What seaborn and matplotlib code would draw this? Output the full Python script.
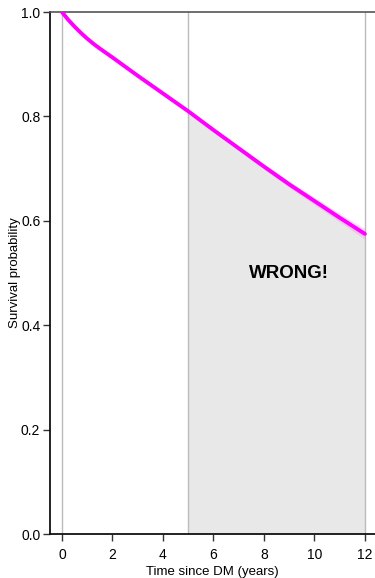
import matplotlib
matplotlib.use("Agg")
import matplotlib.pyplot as plt
import seaborn as sns
import numpy as np
import pandas as pd

# Survival curve since DM diagnosis
years = [0, 0.25, 0.5, 0.75, 1, 1.25, 1.5, 2, 3, 4, 5, 6, 7, 8, 9, 10, 11, 12]
survival = [1.0, 0.985, 0.972, 0.960, 0.949, 0.939, 0.930, 0.913, 0.878, 0.844, 0.810, 0.774, 0.739, 0.704, 0.670, 0.638, 0.606, 0.575]
ci_lower = [1.0, 0.984, 0.971, 0.959, 0.948, 0.938, 0.929, 0.912, 0.877, 0.843, 0.808, 0.771, 0.735, 0.699, 0.664, 0.631, 0.598, 0.565]
ci_upper = [1.0, 0.986, 0.973, 0.961, 0.950, 0.940, 0.931, 0.914, 0.879, 0.845, 0.812, 0.777, 0.743, 0.709, 0.676, 0.645, 0.614, 0.585]

# Extrapolation window and its annotation
extrap_start, extrap_end = 5, 12
note_text = "WRONG!"
note_x, note_y = 9.0, 0.50

x_ticks = [0, 2, 4, 6, 8, 10, 12]
y_ticks = [0.0, 0.2, 0.4, 0.6, 0.8, 1.0]

sns.set_style("ticks")
plt.rcParams["font.family"] = ["Liberation Sans", "DejaVu Sans"]
plt.rcParams["text.color"] = "black"
plt.rcParams["axes.labelcolor"] = "black"
plt.rcParams["xtick.color"] = "black"
plt.rcParams["ytick.color"] = "black"

df = pd.DataFrame({"years": years, "survival": survival})

fig = plt.figure(figsize=(3.75, 5.78), dpi=100)
ax = fig.add_axes([0.1333, 0.0761, 0.8667, 0.9031])

# Shaded area under the curve over the extrapolated period
yr = np.array(years, dtype=float)
sv = np.array(survival, dtype=float)
mask = yr >= extrap_start
ax.fill_between(yr[mask], 0, sv[mask], color="#e8e8e8", lw=0, zorder=1)

# Reference verticals
for xv in [0, extrap_start, extrap_end]:
    ax.axvline(xv, color="#bbbbbb", lw=1.0, zorder=2)

# Confidence band and survival curve
ax.fill_between(yr, ci_lower, ci_upper, color="#ff00ff", alpha=0.15, lw=0, zorder=3)
sns.lineplot(data=df, x="years", y="survival", ax=ax, color="#ff00ff", lw=2.8, zorder=4)

ax.text(note_x, note_y, note_text, fontsize=13.5, fontweight="bold", color="black",
        ha="center", va="center", zorder=5)

ax.set_xlim(-0.475, 12.4)
ax.set_ylim(0, 1.0)
ax.set_xticks(x_ticks)
ax.set_yticks(y_ticks)
ax.set_xticklabels([str(t) for t in x_ticks])
ax.set_yticklabels([f"{t:.1f}" for t in y_ticks])
ax.tick_params(axis="both", labelsize=10, length=5, width=1, color="#333333", labelcolor="black")
ax.tick_params(axis="x", pad=5)
ax.tick_params(axis="y", pad=2)

ax.set_xlabel("Time since DM (years)", fontsize=9.5, labelpad=3)
ax.set_ylabel("Survival probability", fontsize=9.5)
ax.yaxis.set_label_coords(-0.088, 0.5)

for side in ["left", "bottom"]:
    ax.spines[side].set_color("#111111")
    ax.spines[side].set_linewidth(1.3)
ax.spines["top"].set_color("#555555")
ax.spines["top"].set_linewidth(1.2)
ax.spines["right"].set_visible(False)

fig.savefig("out.png", dpi=100)
